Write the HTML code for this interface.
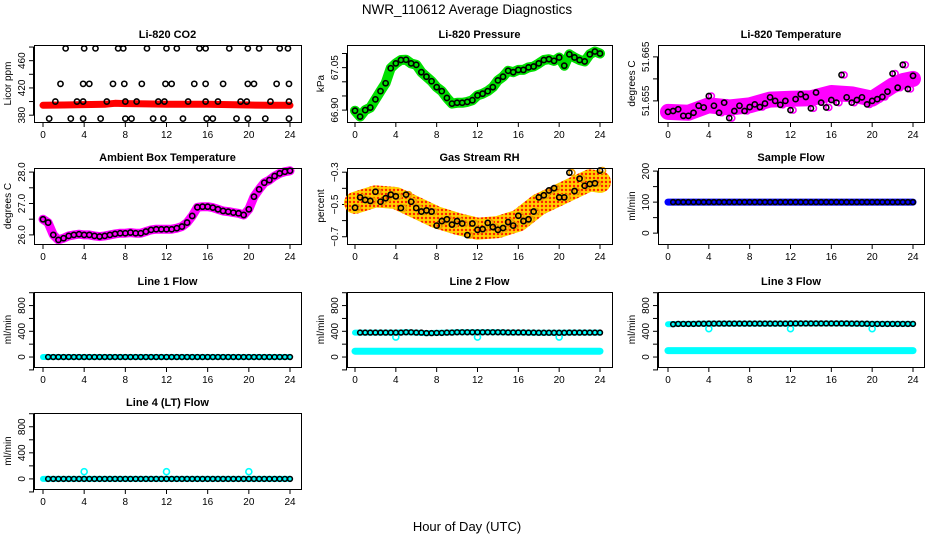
<!DOCTYPE html>
<html><head><meta charset="utf-8"><style>
html,body{margin:0;padding:0;background:#fff}
svg{display:block;font-family:"Liberation Sans",sans-serif}
</style></head><body>
<svg id="c" width="936" height="540" viewBox="0 0 936 540">
<defs>
<pattern id="rhpat" width="4" height="4" patternUnits="userSpaceOnUse"><rect width="4" height="4" fill="#ffd000"/><circle cx="2" cy="2" r="1.2" fill="#ff2000"/></pattern>
</defs>
<text x="467" y="14" font-size="13.5" text-anchor="middle">NWR_110612  Average Diagnostics</text>
<text x="467" y="531" font-size="13" text-anchor="middle">Hour of Day (UTC)</text>
</svg>
<script>
const hours = [0,0.5,1,1.5,2,2.5,3,3.5,4,4.5,5,5.5,6,6.5,7,7.5,8,8.5,9,9.5,10,10.5,11,11.5,12,12.5,13,13.5,14,14.5,15,15.5,16,16.5,17,17.5,18,18.5,19,19.5,20,20.5,21,21.5,22,22.5,23,23.5,24];
const xTicks = [0,4,8,12,16,20,24];
const co2Hours = [2.2,4,5.1,7.3,7.8,10.1,12,13,15.2,15.8,18.1,19.9,21,23,23.8, 1.7,3.9,4.5,6.8,7.9,9.6,11.9,12.5,14.7,15.8,17.5,19.9,20.5,22.7,23.9, 1.2,3.3,3.9,6.2,8,9.1,11.2,11.8,14.1,15.8,17,19.2,19.8,22.1,23.9, 0.6,2.7,3.9,5.6,8,8.6,10.7,11.7,13.6,15.9,16.5,18.8,19.9,21.6,23.9];
const co2Vals = [478,478,478,478,478,478,478,478,478,478,478,478,478,478,478, 426,426,426,426,426,426,426,426,426,426,426,426,426,426,426, 400,400,400,400,400,400,400,400,400,400,400,400,400,400,400, 375,375,375,375,375,375,375,375,375,375,375,375,375,375,375];
const co2BandHours = [0,2,4,6,7,8,10,12,14,16,18,20,22,24];
const co2Band = [394.5,395,395.5,396,397.5,397,396.5,396,396,396,395.5,395,394.5,394.5];
const pressure = [66.898,66.877,66.900,66.909,66.938,66.967,66.995,67.048,67.065,67.077,67.078,67.065,67.060,67.034,67.018,67.002,66.981,66.967,66.943,66.923,66.926,66.926,66.929,66.935,66.952,66.958,66.967,66.981,67.005,67.018,67.039,67.034,67.042,67.042,67.051,67.054,67.065,67.077,67.080,67.074,67.086,67.057,67.097,67.086,67.077,67.072,67.097,67.107,67.100];
const licorTemp = [51.6525,51.6527,51.6531,51.6516,51.6516,51.6523,51.6539,51.6535,51.6561,51.6539,51.6523,51.6546,51.6511,51.6527,51.6539,51.6527,51.6536,51.6542,51.6536,51.6544,51.6558,51.6550,51.6541,51.6550,51.6529,51.6554,51.6565,51.6559,51.6533,51.6569,51.6546,51.6535,51.6552,51.6546,51.6609,51.6558,51.6546,51.6552,51.6558,51.6542,51.6550,51.6554,51.6559,51.6571,51.6612,51.6580,51.6632,51.6577,51.6607];
const tempBandHours = [0,2,4,6,8,10,12,14,16,18,20,22,23,24];
const tempBand = [51.6525,51.6523,51.6540,51.6535,51.6540,51.6553,51.6555,51.6556,51.6568,51.6565,51.6555,51.6585,51.6595,51.6600];
const ambient = [26.497,26.392,26.0,25.841,25.894,25.968,26.0,26.021,26.0,26.0,25.968,25.947,25.968,26.0,26.032,26.053,26.053,26.074,26.053,26.053,26.106,26.159,26.18,26.18,26.18,26.18,26.212,26.265,26.392,26.603,26.878,26.899,26.899,26.868,26.815,26.762,26.741,26.709,26.688,26.635,26.815,27.217,27.45,27.661,27.746,27.873,27.958,28.011,28.042];
const rh = [-0.52,-0.456,-0.472,-0.478,-0.421,-0.483,-0.461,-0.439,-0.450,-0.522,-0.439,-0.483,-0.522,-0.544,-0.537,-0.544,-0.631,-0.603,-0.592,-0.625,-0.603,-0.618,-0.690,-0.618,-0.657,-0.653,-0.614,-0.640,-0.657,-0.646,-0.609,-0.631,-0.570,-0.603,-0.592,-0.544,-0.456,-0.443,-0.413,-0.399,-0.456,-0.456,-0.303,-0.417,-0.340,-0.384,-0.373,-0.369,-0.290];
const rhBandHours = [0,2,4,6,8,10,12,14,16,18,20,22,23,24];
const rhBand = [-0.49,-0.45,-0.46,-0.52,-0.58,-0.62,-0.65,-0.64,-0.60,-0.50,-0.44,-0.38,-0.35,-0.36];
const flowHours = [0,1,2,3,4,5,6,7,8,9,10,11,12,13,14,15,16,17,18,19,20,21,22,23,24];
const sampleFlow = [100,100,100,100,100,100,100,100,100,100,100,100,100,100,100,100,100,100,100,100,100,100,100,100,100];
const line1Flow = [0,0,0,0,0,0,0,0,0,0,0,0,0,0,0,0,0,0,0,0,0,0,0,0,0];
const line2Flow = [380,380,380,380,380,385,380,372,375,380,385,385,385,385,385,382,382,380,378,378,378,380,380,380,380];
const line2Low = [90,90,90,90,90,90,90,90,90,90,90,90,90,90,90,90,90,90,90,90,90,90,90,90,90];
const line3Flow = [510,515,515,518,520,520,520,520,520,520,520,520,522,522,522,522,522,522,520,518,515,515,515,515,515];
const line3Low = [100,100,100,100,100,100,100,100,100,100,100,100,100,100,100,100,100,100,100,100,100,100,100,100,100];
const line4Flow = [0,0,0,0,0,0,0,0,0,0,0,0,0,0,0,0,0,0,0,0,0,0,0,0,0];
const dipHours = [4,12,20];
const line2Dips = [310,310,310];
const line3Dips = [440,440,440];
const line4Spikes = [110,110,110];

const NS = 'http://www.w3.org/2000/svg';
const svg = document.getElementById('c');
function mk(tag, attrs, parent){const e=document.createElementNS(NS,tag);for(const k in attrs)e.setAttribute(k,attrs[k]);(parent||svg).appendChild(e);return e;}
const colsX = [[34,301,43,290],[347,612,355,600],[658,924,668,913]];
const rowsY = [[45,122],[168,244],[292,367],[413,489]];

function panel(id,col,row,title,ylab,ymin,ymax,ticks,labels){
  const [l,r,x0,x24]=colsX[col],[t,b]=rowsY[row];
  const g=mk('g',{});
  
  
  const xs=h=>x0+(x24-x0)*h/24, ys=v=>b-(v-ymin)/(ymax-ymin)*(b-t);
  const tt=mk('text',{x:(l+r)/2,y:t-7,'font-size':11,'font-weight':'bold','text-anchor':'middle'},g);tt.textContent=title;
  
  
  const yt=mk('text',{transform:`translate(11,${(t+b)/2}) rotate(-90)`,'font-size':10,'text-anchor':'middle'},g);yt.textContent=ylab;
  
  
  if(col>0) yt.setAttribute('transform',`translate(${l-23},${(t+b)/2}) rotate(-90)`);
  const ax=mk('g',{stroke:'#000','stroke-width':1,fill:'none'},g);
  mk('line',{x1:xs(0),x2:xs(24),y1:b+0.5,y2:b+0.5},ax);
  xTicks.forEach(h=>{mk('line',{x1:xs(h),x2:xs(h),y1:b,y2:b+5},ax);
    const tx=mk('text',{x:xs(h),y:b+16,'font-size':10,'text-anchor':'middle',stroke:'none',fill:'#000'},g);tx.textContent=h;
    
    });
  mk('line',{x1:l-0.5,x2:l-0.5,y1:ys(ticks[0]),y2:ys(ticks[ticks.length-1])},ax);
  ticks.forEach((v,i)=>{mk('line',{x1:l,x2:l-5,y1:ys(v),y2:ys(v)},ax);
    if(labels[i]!==''){const tx=mk('text',{transform:`translate(${l-9},${ys(v)}) rotate(-90)`,'font-size':10,'text-anchor':'middle',fill:'#000',stroke:'none'},g);tx.textContent=labels[i];
    
    }});
  const plot=mk('g',{},g);
  const bx=mk('rect',{x:l+0.5,y:t+0.5,width:r-l,height:b-t,fill:'none',stroke:'#000','stroke-width':1},g);
  
  
  return {xs,ys,plot,id};
}
function band(p,hs,vs,color,w,name){
  const d=hs.map((h,i)=>(i?'L':'M')+p.xs(h).toFixed(1)+','+p.ys(vs[i]).toFixed(1)).join('');
  const e=mk('path',{d,fill:'none',stroke:color,'stroke-width':w,'stroke-linejoin':'round','stroke-linecap':'round'},p.plot);
  
  
}
function circles(p,hs,vs,color,rad,name,dx){
  dx=dx||0;
  const g=mk('g',{fill:'none',stroke:color,'stroke-width':1.6},p.plot);
  
  
  hs.forEach((h,i)=>{const c=mk('circle',{cx:p.xs(h+dx),cy:p.ys(vs[i]),r:rad},g);
    
    });
}
function flowCircles(p,vals,name){
  circles(p,flowHours.slice(1),vals.slice(1),'#000',2.4,name);
  circles(p,flowHours.slice(0,24),vals.slice(0,24),'#000',2.4,name+'-half',0.5);
}
// CO2
let p=panel('co2',0,0,'Li-820 CO2','Licor ppm',370,483,[380,400,420,440,460,480],['380','','420','','460','']);
band(p,co2BandHours,co2Band,'#ff0000',7,'co2-band');
circles(p,co2Hours,co2Vals,'#000',2.6,'co2-points');
// Pressure
p=panel('pressure',1,0,'Li-820 Pressure','kPa',66.858,67.13,[66.90,66.95,67.00,67.05,67.10],['66.90','','','67.05','']);
band(p,hours,pressure,'#00e000',10,'pressure-band');
circles(p,hours,pressure,'#000',2.6,'pressure-points');
// Licor temperature
p=panel('licor-temp',2,0,'Li-820 Temperature','degrees C',51.6502,51.6677,[51.655,51.660,51.665],['51.655','','51.665']);
band(p,tempBandHours,tempBand,'#ff00ff',16,'licor-temp-band');
circles(p,hours,licorTemp,'#ff00ff',3,'licor-temp-scatter',0.25);
circles(p,hours,licorTemp,'#000',2.6,'licor-temp-points');
// Ambient
p=panel('ambient',0,1,'Ambient Box Temperature','degrees C',25.71,28.13,[26.0,26.5,27.0,27.5,28.0],['26.0','','27.0','','28.0']);
band(p,hours,ambient,'#ff00ff',9,'ambient-band');
circles(p,hours,ambient,'#000',2.6,'ambient-points');
// RH
p=panel('rh',1,1,'Gas Stream RH','percent',-0.745,-0.274,[-0.7,-0.6,-0.5,-0.4,-0.3],['\u22120.7','','\u22120.5','','\u22120.3']);
band(p,rhBandHours,rhBand,'url(#rhpat)',22,'rh-band');
circles(p,hours,rh,'#f0a000',3,'rh-scatter',0.25);
circles(p,hours,rh,'#000',2.6,'rh-points');
// Sample flow
p=panel('sample-flow',2,1,'Sample Flow','ml/min',-35,210,[0,50,100,150,200],['0','','100','','200']);
band(p,flowHours,sampleFlow,'#0000ff',7,'sample-flow-band');
flowCircles(p,sampleFlow,'sample-flow-points');
const flowTicks=[-200,0,200,400,600,800,1000], flowLabels=['','0','','400','','800',''];
// Line 1
p=panel('line1',0,2,'Line 1 Flow','ml/min',-155,1011,flowTicks,flowLabels);
band(p,flowHours,line1Flow,'#00ffff',6,'line1-band');
flowCircles(p,line1Flow,'line1-points');
// Line 2
p=panel('line2',1,2,'Line 2 Flow','ml/min',-155,1011,flowTicks,flowLabels);
band(p,flowHours,line2Low,'#00ffff',7,'line2-low-band');
band(p,flowHours,line2Flow,'#00ffff',6,'line2-band');
circles(p,dipHours,line2Dips,'#00ffff',3,'line2-dips');
flowCircles(p,line2Flow,'line2-points');
// Line 3
p=panel('line3',2,2,'Line 3 Flow','ml/min',-155,1011,flowTicks,flowLabels);
band(p,flowHours,line3Low,'#00ffff',7,'line3-low-band');
band(p,flowHours,line3Flow,'#00ffff',6,'line3-band');
circles(p,dipHours,line3Dips,'#00ffff',3,'line3-dips');
flowCircles(p,line3Flow,'line3-points');
// Line 4
p=panel('line4',0,3,'Line 4 (LT) Flow','ml/min',-155,1011,flowTicks,flowLabels);
band(p,flowHours,line4Flow,'#00ffff',6,'line4-band');
circles(p,dipHours,line4Spikes,'#00ffff',3,'line4-spikes');
flowCircles(p,line4Flow,'line4-points');
</script>
</body></html>
